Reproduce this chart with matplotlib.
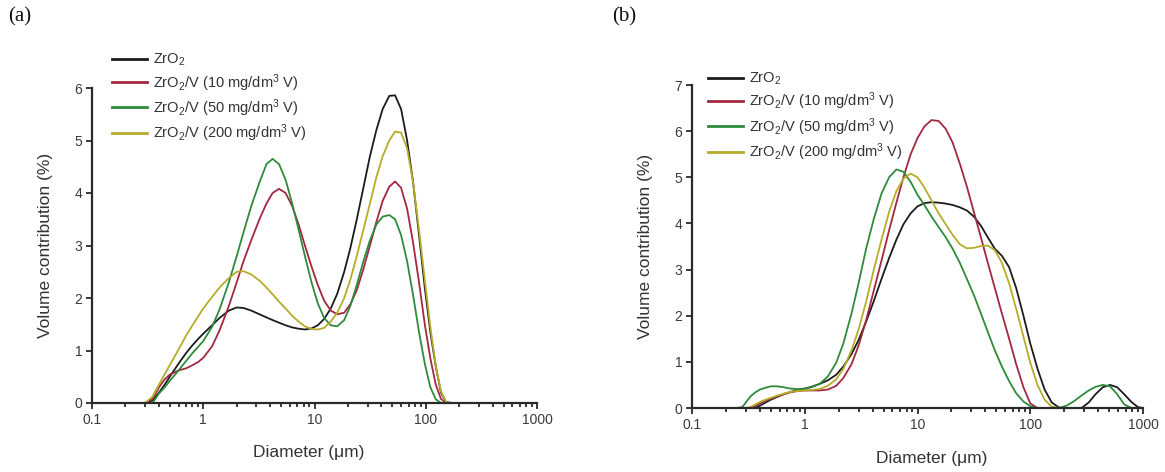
import matplotlib
matplotlib.use("Agg")
import matplotlib.pyplot as plt
from matplotlib.ticker import LogLocator, FixedLocator, FixedFormatter, NullFormatter

plt.rcParams["font.family"] = ["Liberation Sans", "DejaVu Sans"]
plt.rcParams["mathtext.fontset"] = "custom"
plt.rcParams["mathtext.rm"] = "Liberation Sans"
plt.rcParams["mathtext.it"] = "Liberation Sans:italic"

# ---- series labels and colours ----
labels = ["ZrO$_2$",
          "ZrO$_2$/V (10 mg/dm$^3$ V)",
          "ZrO$_2$/V (50 mg/dm$^3$ V)",
          "ZrO$_2$/V (200 mg/dm$^3$ V)"]
colors = ["#1c1c1c", "#a3283f", "#2e8b3b", "#b5ad2a"]

# ---- panel (a): particle size distributions ----
diam_a = [0.1, 0.2, 0.3, 0.35, 0.4, 0.45, 0.5, 0.6, 0.7, 0.8, 0.9, 1, 1.2, 1.4, 1.7,
          2, 2.3, 2.7, 3.2, 3.7, 4.2, 4.8, 5.5, 6.3, 7.2, 8.2, 9.4, 10.7, 12.2, 14,
          16, 18.5, 21, 24, 27.5, 31.5, 36, 41, 47, 53, 60, 68, 77, 87, 98, 110,
          123, 137, 152, 170, 200, 1000]
zro2_a = [0, 0, 0, 0.05, 0.2, 0.35, 0.5, 0.75, 0.95, 1.1, 1.22, 1.32, 1.48, 1.62, 1.76,
          1.82, 1.81, 1.76, 1.69, 1.63, 1.58, 1.53, 1.48, 1.44, 1.415, 1.40, 1.42, 1.48, 1.6, 1.8,
          2.08, 2.5, 2.95, 3.5, 4.1, 4.7, 5.2, 5.6, 5.85, 5.86, 5.6, 5.0, 4.2, 3.2, 2.2, 1.35,
          0.7, 0.2, 0.02, 0, 0, 0]
v10_a = [0, 0, 0, 0.08, 0.3, 0.45, 0.54, 0.62, 0.66, 0.72, 0.78, 0.86, 1.08, 1.38, 1.85,
         2.3, 2.7, 3.1, 3.5, 3.8, 4.0, 4.08, 4.0, 3.75, 3.4, 3.0, 2.6, 2.25, 1.95, 1.76,
         1.69, 1.72, 1.88, 2.15, 2.55, 3.0, 3.45, 3.85, 4.12, 4.22, 4.1, 3.7, 3.05, 2.3, 1.5, 0.85,
         0.35, 0.08, 0, 0, 0, 0]
v50_a = [0, 0, 0, 0, 0.18, 0.3, 0.42, 0.62, 0.8, 0.95, 1.07, 1.18, 1.45, 1.78, 2.3,
         2.8, 3.25, 3.75, 4.2, 4.55, 4.65, 4.55, 4.25, 3.8, 3.3, 2.8, 2.3, 1.9, 1.62, 1.48,
         1.46, 1.58, 1.85, 2.25, 2.7, 3.1, 3.4, 3.55, 3.58, 3.5, 3.2, 2.7, 2.05, 1.35, 0.75, 0.3,
         0.07, 0, 0, 0, 0, 0]
v200_a = [0, 0, 0, 0.12, 0.35, 0.55, 0.72, 1.02, 1.28, 1.48, 1.65, 1.8, 2.02, 2.2, 2.38,
          2.5, 2.51, 2.45, 2.33, 2.2, 2.07, 1.93, 1.8, 1.66, 1.55, 1.46, 1.41, 1.4, 1.43, 1.55,
          1.72, 2.0, 2.35, 2.8, 3.3, 3.8, 4.3, 4.7, 5.0, 5.17, 5.15, 4.85, 4.2, 3.3, 2.35, 1.45,
          0.7, 0.22, 0.02, 0, 0, 0]

# ---- panel (b) ----
diam_b = [0.1, 0.25, 0.28, 0.3, 0.33, 0.36, 0.4, 0.45, 0.5, 0.57, 0.65, 0.75, 0.87, 1,
          1.15, 1.35, 1.6, 1.9, 2.2, 2.6, 3, 3.5, 4.1, 4.8, 5.6, 6.5, 7.5, 8.7, 10,
          11.5, 13.3, 15.4, 17.8, 20.5, 23.7, 27.4, 31.6, 36.5, 42, 48.5, 56, 65, 75,
          87, 100, 116, 134, 155, 180, 210, 245, 285, 330, 380, 440, 510, 590, 680,
          790, 900, 1000]
zro2_b = [0, 0, 0, 0, 0, 0, 0.05, 0.12, 0.18, 0.24, 0.3, 0.35, 0.39, 0.42,
          0.46, 0.52, 0.6, 0.72, 0.9, 1.17, 1.47, 1.87, 2.32, 2.8, 3.25, 3.65, 3.98, 4.22, 4.37,
          4.44, 4.46, 4.45, 4.43, 4.4, 4.35, 4.28, 4.15, 3.95, 3.7, 3.45, 3.3, 3.05, 2.6,
          2.0, 1.4, 0.85, 0.4, 0.12, 0.01, 0, 0, 0, 0.12, 0.3, 0.45, 0.5, 0.45, 0.3,
          0.13, 0.02, 0]
v10_b = [0, 0, 0, 0, 0, 0.03, 0.1, 0.16, 0.2, 0.25, 0.3, 0.34, 0.37, 0.38,
         0.38, 0.38, 0.4, 0.48, 0.65, 0.95, 1.35, 1.9, 2.55, 3.2, 3.85, 4.45, 5.0, 5.5, 5.85,
         6.1, 6.24, 6.22, 6.05, 5.75, 5.3, 4.8, 4.25, 3.7, 3.15, 2.6, 2.05, 1.5, 0.95,
         0.45, 0.1, 0, 0, 0, 0, 0, 0, 0, 0, 0, 0, 0, 0, 0,
         0, 0, 0]
v50_b = [0, 0, 0.02, 0.12, 0.25, 0.33, 0.4, 0.44, 0.47, 0.47, 0.45, 0.42, 0.41, 0.42,
         0.45, 0.52, 0.68, 0.98, 1.4, 2.05, 2.7, 3.45, 4.1, 4.65, 5.0, 5.17, 5.12, 4.9, 4.62,
         4.4, 4.15, 3.92, 3.7, 3.45, 3.15, 2.8, 2.45, 2.05, 1.65, 1.25, 0.9, 0.58, 0.32,
         0.14, 0.04, 0, 0, 0, 0, 0.05, 0.15, 0.27, 0.38, 0.46, 0.5, 0.47, 0.3, 0.08,
         0, 0, 0]
v200_b = [0, 0, 0, 0, 0.02, 0.07, 0.13, 0.18, 0.22, 0.27, 0.31, 0.35, 0.37, 0.38,
          0.39, 0.41, 0.48, 0.62, 0.85, 1.25, 1.7, 2.3, 3.0, 3.65, 4.25, 4.7, 4.97, 5.08, 5.0,
          4.78, 4.5, 4.22, 3.98, 3.75, 3.55, 3.46, 3.47, 3.51, 3.52, 3.42, 3.15, 2.7, 2.15,
          1.55, 0.98, 0.5, 0.18, 0.03, 0, 0, 0, 0, 0, 0, 0, 0, 0, 0,
          0, 0, 0]

x_ticks = [0.1, 1, 10, 100, 1000]
x_tick_labels = ["0.1", "1", "10", "100", "1000"]

W, H = 1165, 472
fig = plt.figure(figsize=(W / 100, H / 100), dpi=100)


def px_rect(x0, y0, x1, y1):
    return [x0 / W, 1 - y1 / H, (x1 - x0) / W, (y1 - y0) / H]


def style_axes(ax, ymax, xlabel_x):
    ax.set_xscale("log")
    ax.set_xlim(0.1, 1000)
    ax.set_ylim(0, ymax)
    for s in ("top", "right"):
        ax.spines[s].set_visible(False)
    for s in ("left", "bottom"):
        ax.spines[s].set_color("#2a2a2a")
        ax.spines[s].set_linewidth(1.6)
    ax.xaxis.set_major_locator(FixedLocator(x_ticks))
    ax.xaxis.set_major_formatter(FixedFormatter(x_tick_labels))
    ax.xaxis.set_minor_locator(LogLocator(base=10, subs=range(2, 10), numticks=20))
    ax.xaxis.set_minor_formatter(NullFormatter())
    ax.set_yticks(range(0, ymax + 1))
    ax.tick_params(axis="both", which="major", direction="out", length=4, width=1.3,
                   color="#2a2a2a", labelcolor="#3a3a3a", labelsize=10, pad=3)
    ax.tick_params(axis="x", which="minor", direction="out", length=3, width=1.3,
                   color="#2a2a2a")
    ax.set_xlabel("Diameter (\u03bcm)", fontsize=12.5, color="#333333")
    ax.set_ylabel("Volume contribution (%)", fontsize=12.5, color="#333333")
    ax.xaxis.set_label_coords(xlabel_x, -0.133)
    ax.yaxis.set_label_coords(-0.087, 0.5)


panels = [
    (px_rect(92, 88, 537, 403), 6, 0.487, diam_a, [zro2_a, v10_a, v50_a, v200_a],
     (112, 52), "(a)", 8),
    (px_rect(692, 85, 1143, 408), 7, 0.532, diam_b, [zro2_b, v10_b, v50_b, v200_b],
     (708, 71), "(b)", 612),
]

for rect, ymax, xl, diam, series, leg_xy, tag, tag_x in panels:
    ax = fig.add_axes(rect)
    style_axes(ax, ymax, xl)
    handles = []
    for vals, lab, col in zip(series, labels, colors):
        ln, = ax.plot(diam, vals, color=col, lw=1.3, label=lab, clip_on=False,
                      solid_joinstyle="round")
        handles.append(ln)
    leg = fig.legend(handles=handles, loc="upper left",
                     bbox_to_anchor=(leg_xy[0] / W, 1 - leg_xy[1] / H),
                     bbox_transform=fig.transFigure, frameon=False,
                     fontsize=10.5, handlelength=2.4, handletextpad=0.4,
                     labelspacing=0.24, borderpad=0, borderaxespad=0)
    for t in leg.get_texts():
        t.set_color("#333333")
    for l in leg.get_lines():
        l.set_linewidth(2.0)
    fig.text(tag_x / W, 1 - 17 / H, tag, family=["Liberation Serif", "DejaVu Serif"],
             fontsize=15, va="center", ha="left", color="#111111")

fig.savefig("out.png", dpi=100)
